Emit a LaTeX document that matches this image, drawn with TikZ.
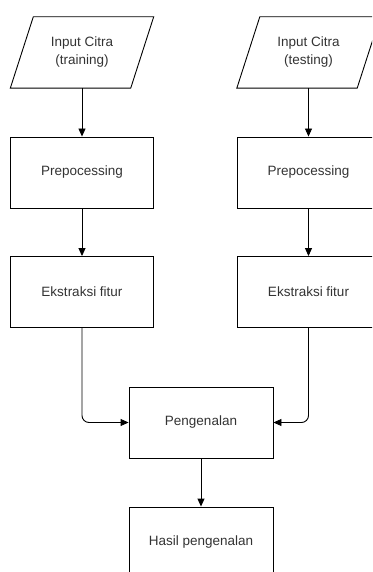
\documentclass[tikz,border=0pt]{standalone}
\usepackage{fontspec}
\setmainfont{Liberation Sans}
\usetikzlibrary{arrows.meta,calc}
\definecolor{txt}{HTML}{333333}
\tikzset{
  box/.style={draw=black, line width=0.9pt, minimum width=143pt, minimum height=71pt, inner sep=0pt,
    font=\fontsize{13.5}{18}\selectfont, text=txt, align=center},
  iobox/.style={minimum width=120pt, minimum height=71pt, inner sep=0pt,
    font=\fontsize{13.5}{18}\selectfont, text=txt, align=center},
  para/.style={draw=black, line width=0.9pt},
  conn/.style={draw=black, line width=0.9pt, -{Triangle[length=8pt,width=7pt]}},
}
\begin{document}
\begin{tikzpicture}[x=1pt,y=-1pt]
\useasboundingbox (0,0) rectangle (372,572);
\begin{scope}
\clip (0,0) rectangle (372,572);
% left column
\node[iobox] (in1) at (82,52.5) {Input Citra\\(training)};
\draw[para] ($(in1.north west)+(11.5,0)$) -- ($(in1.north east)+(11.5,0)$) -- ($(in1.south east)+(-11.5,0)$) -- ($(in1.south west)+(-11.5,0)$) -- cycle;
\node[box] (pre1) at (82,172.5) {Prepocessing};
\node[box] (ek1) at (82,292) {Ekstraksi fitur};
% right column
\node[iobox] (in2) at (308.5,52.5) {Input Citra\\(testing)};
\draw[para] ($(in2.north west)+(11.5,0)$) -- ($(in2.north east)+(11.5,0)$) -- ($(in2.south east)+(-11.5,0)$) -- ($(in2.south west)+(-11.5,0)$) -- cycle;
\node[box] (pre2) at (308.5,172.5) {Prepocessing};
\node[box] (ek2) at (308.5,292) {Ekstraksi fitur};
% center
\node[box, minimum width=144pt] (peng) at (201,422.5) {Pengenalan};
\node[box, minimum width=144pt] (hasil) at (201,542.5) {Hasil pengenalan};
% connectors
\draw[conn] (in1.south) -- (pre1.north);
\draw[conn] (pre1.south) -- (ek1.north);
\draw[conn] (in2.south) -- (pre2.north);
\draw[conn] (pre2.south) -- (ek2.north);
\draw[conn, rounded corners=7pt] (ek1.south) |- (peng.west);
\draw[conn, rounded corners=7pt] (ek2.south) |- (peng.east);
\draw[conn] (peng.south) -- (hasil.north);
\end{scope}
\end{tikzpicture}
\end{document}
